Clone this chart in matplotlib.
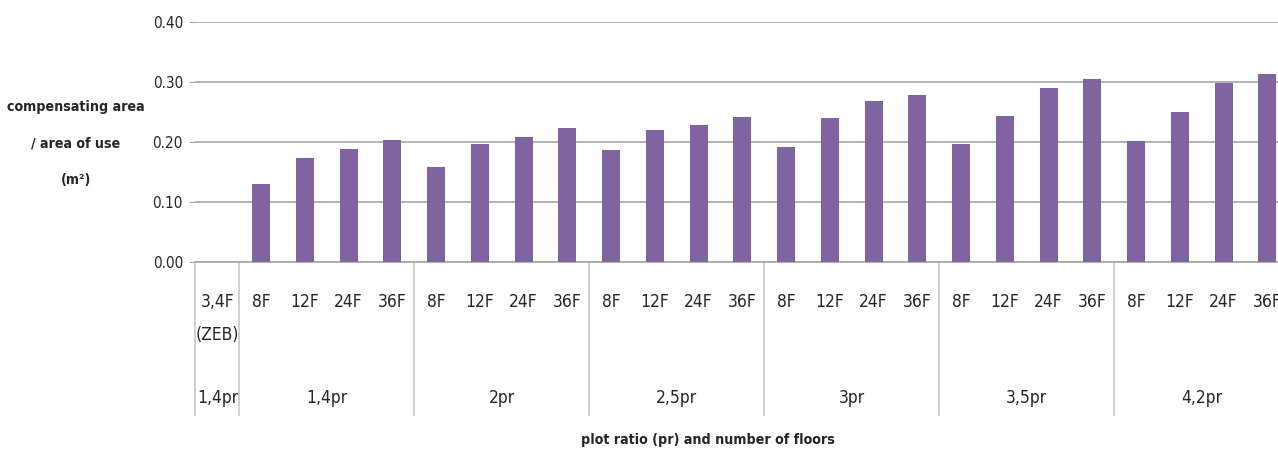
import matplotlib.pyplot as plt
from matplotlib.transforms import blended_transform_factory

plt.rcParams['font.family'] = ['DejaVu Sans']
plt.rcParams['font.stretch'] = 'condensed'

# categories along the x axis
floor_labels = ["3,4F\n(ZEB)",
                "8F", "12F", "24F", "36F",
                "8F", "12F", "24F", "36F",
                "8F", "12F", "24F", "36F",
                "8F", "12F", "24F", "36F",
                "8F", "12F", "24F", "36F",
                "8F", "12F", "24F", "36F"]
group_labels = ["1,4pr", "1,4pr", "2pr", "2,5pr", "3pr", "3,5pr", "4,2pr"]
group_sizes = [1, 4, 4, 4, 4, 4, 4]

# compensating area / area of use
values = [0.0,
          0.130, 0.174, 0.189, 0.204,
          0.158, 0.197, 0.209, 0.223,
          0.187, 0.221, 0.228, 0.242,
          0.192, 0.240, 0.269, 0.279,
          0.197, 0.244, 0.290, 0.305,
          0.202, 0.250, 0.299, 0.313]

yticks = [0.0, 0.1, 0.2, 0.3, 0.4]

bar_color = "#8064A2"
grid_color = "#A6A6A6"
text_color = "#262626"

fig = plt.figure(figsize=(12.78, 4.55), dpi=100)
ax = fig.add_axes([195.5 / 1278, 1 - 262.3 / 455, 1093.75 / 1278, 240.3 / 455])

x = list(range(len(values)))
ax.bar(x, values, width=0.41, color=bar_color, zorder=3)

ax.set_xlim(-0.5, len(values) - 0.5)
ax.set_ylim(0, 0.4)
ax.set_yticks(yticks)
ax.set_yticklabels([f"{v:.2f}" for v in yticks], fontsize=11, color=text_color)
ax.yaxis.grid(True, color=grid_color, linewidth=1.2, zorder=0)
ax.tick_params(axis="y", length=4, color=grid_color, pad=5)

ax.set_xticks(x)
ax.set_xticklabels(floor_labels, fontsize=12.5, color=text_color, linespacing=2.1)
ax.tick_params(axis="x", length=0, pad=22)

for side in ["top", "right", "left"]:
    ax.spines[side].set_visible(False)
ax.spines["bottom"].set_color(grid_color)
ax.spines["bottom"].set_linewidth(1.2)

# group separators and group labels below the axis
trans = blended_transform_factory(ax.transData, ax.transAxes)
start = 0
bounds = [-0.5]
for label, size in zip(group_labels, group_sizes):
    center = start + (size - 1) / 2
    ax.text(center, -0.565, label, transform=trans, fontsize=12.5, color=text_color,
            ha="center", va="center")
    start += size
    bounds.append(start - 0.5)
for b in bounds:
    ax.plot([b, b], [0, -0.635], transform=trans, color="#C8C8C8", linewidth=1.2,
            clip_on=False)

fig.text(76 / 1278, 1 - 143.5 / 455, "compensating area\n/ area of use\n(m²)",
         fontsize=10.2, fontweight="bold", color=text_color, ha="center", va="center",
         multialignment="center", linespacing=3.05)
fig.text(708 / 1278, 1 - 440 / 455, "plot ratio (pr) and number of floors",
         fontsize=10.2, fontweight="bold", color=text_color, ha="center", va="center")

fig.savefig("out.png", dpi=100)
